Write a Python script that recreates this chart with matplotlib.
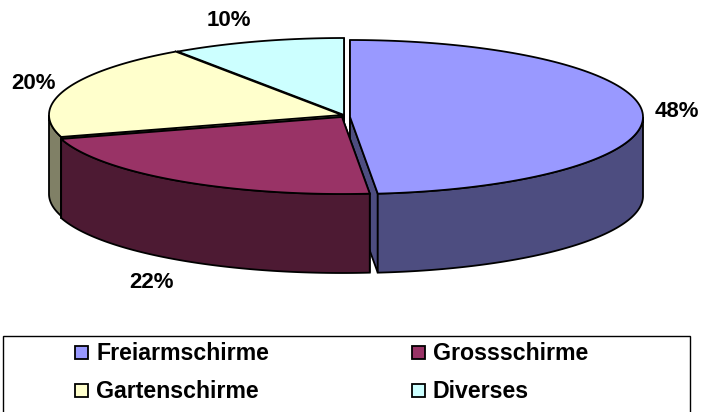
import numpy as np
import matplotlib
matplotlib.use('Agg')
import matplotlib.pyplot as plt
from matplotlib.patches import Polygon, Rectangle

plt.rcParams['font.family'] = ['Liberation Sans', 'DejaVu Sans']

# data
names = ['Freiarmschirme', 'Grossschirme', 'Gartenschirme', 'Diverses']
values = [48.49, 21.91, 20.0, 9.6]
top_colors = ['#9999FF', '#993366', '#FFFFCC', '#CCFFFF']
side_colors = ['#4D4D80', '#4D1A33', '#808066', '#668080']

# pie geometry in pixels
rx, ry, depth = 293, 77, 79
centers = [(350, 117), (342, 117), (342, 115), (344, 115)]
label_pos = [(677, 111), (151, 283), (33, 83), (229, 20)]

# legend layout
legend_marker = [(75, 346), (412, 346), (75, 384), (412, 384)]

fig = plt.figure(figsize=(7.02, 4.12), dpi=100)
ax = fig.add_axes([0, 0, 1, 1])
ax.set_xlim(0, 702)
ax.set_ylim(412, 0)
ax.axis('off')


def arc(cx, cy, t0, t1, dy=0):
    t = np.radians(np.linspace(t0, t1, 120))
    return np.column_stack([cx + rx * np.sin(t), cy + dy - ry * np.cos(t)])


edges = np.cumsum([0] + values) / sum(values) * 360

# back to front, the first wedge's cut face lies behind the second wedge
for i in [0, 3, 2, 1]:
    cx, cy = centers[i]
    t0, t1 = edges[i], edges[i + 1]

    # cut faces
    for t in (t0, t1):
        p = arc(cx, cy, t, t, 0)[0]
        face = [(cx, cy), tuple(p), (p[0], p[1] + depth), (cx, cy + depth)]
        ax.add_patch(Polygon(face, closed=True, fc=side_colors[i], ec='black', lw=1.3))

    # outer wall, only the front half of the ellipse shows
    a, b = max(t0, 90), min(t1, 270)
    if a < b:
        upper = arc(cx, cy, a, b)
        lower = arc(cx, cy, a, b, depth)[::-1]
        ax.add_patch(Polygon(np.vstack([upper, lower]), closed=True,
                             fc=side_colors[i], ec='black', lw=1.3))

    # top surface
    top = np.vstack([[(cx, cy)], arc(cx, cy, t0, t1)])
    ax.add_patch(Polygon(top, closed=True, fc=top_colors[i], ec='black', lw=1.3))

for v, (x, y) in zip(values, label_pos):
    ax.text(x, y, '%d%%' % round(v), ha='center', va='center',
            fontsize=16, fontweight='bold', color='black')

# legend box runs off the bottom of the picture
ax.add_patch(Rectangle((3, 336), 687, 90, fc='white', ec='black', lw=1.0, clip_on=True))
for name, color, (x, y) in zip(names, top_colors, legend_marker):
    ax.add_patch(Rectangle((x, y), 13, 13, fc=color, ec='black', lw=1.3))
    ax.text(x + 21, y + 7, name, ha='left', va='center',
            fontsize=16.7, fontweight='bold', color='black')

fig.savefig('out.png', dpi=100)
